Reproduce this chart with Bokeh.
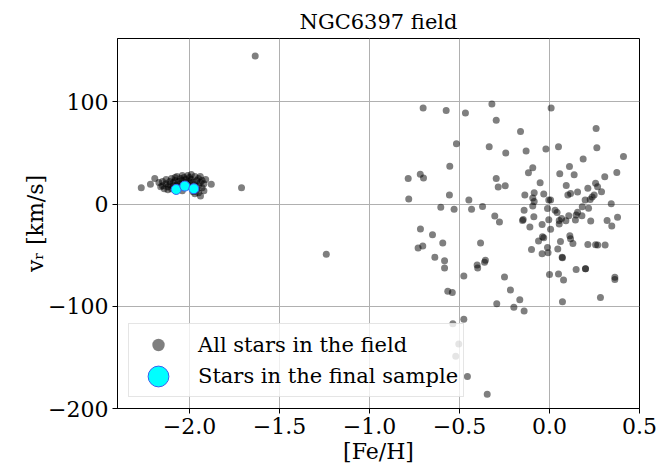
import numpy as np
from bokeh.plotting import figure
from bokeh.models import Range1d, FixedTicker, Legend, LegendItem, ColumnDataSource
from bokeh.embed import file_html
from bokeh.resources import INLINE

# ---- data: all stars in the field ([Fe/H], v_r) ----
blob_feh = [-2.17, -2.16, -2.15, -2.15, -2.14, -2.13, -2.13, -2.12, -2.11, -2.11,
            -2.10, -2.10, -2.09, -2.09, -2.08, -2.08, -2.07, -2.07, -2.06, -2.06,
            -2.05, -2.05, -2.04, -2.04, -2.03, -2.03, -2.02, -2.02, -2.01, -2.01,
            -2.00, -2.00, -1.99, -1.99, -1.99, -1.98, -1.98, -1.97, -1.97, -1.96,
            -1.96, -1.95, -1.95, -1.94, -1.94, -1.93, -1.93, -1.92, -1.92, -1.91,
            -1.97, -2.04, -2.12, -1.95]
blob_vr = [21, 17, 22, 18, 15, 20, 24, 17, 22, 19,
           25, 15, 21, 18, 26, 23, 19, 27, 22, 17,
           25, 20, 28, 23, 18, 26, 21, 24, 28, 19,
           22, 26, 17, 29, 24, 21, 12, 27, 19, 23,
           14, 25, 18, 21, 27, 16, 23, 20, 13, 24,
           10, 13, 14, 11]

poor_feh = [-2.268, -2.217, -2.193, -1.879, -1.939, -1.711, -1.635, -1.24]
poor_vr = [16, 19.5, 25, 19.5, 8, 16, 145, -49]

rich_feh = [-0.702, -0.574, -0.467, -0.32, 0.009, -0.296, -0.161, 0.259, -0.517, -0.335,
            -0.243, -0.13, -0.02, 0.05, 0.263, 0.411, 0.187, -0.554, -0.093, -0.117,
            0.111, 0.057, 0.137, 0.374, 0.307, -0.718, -0.7, -0.785, -0.296, -0.285,
            -0.246, -0.052, 0.093, 0.256, 0.267, 0.213, 0.156, 0.102, 0.117, 0.289,
            0.248, 0.237, 0.226, -0.137, -0.085, -0.093, -0.085, -0.032, -0.004, 0.006,
            0.198, 0.217, 0.182, 0.343, -0.372, -0.141, -0.093, -0.011, 0.031, 0.042,
            0.067, 0.054, 0.054, 0.107, 0.091, 0.156, 0.148, 0.144, 0.18, 0.229,
            0.32, 0.346, 0.378, -0.304, -0.278, -0.15, -0.146, -0.087, -0.109, -0.041,
            -0.004, 0.006, -0.039, -0.032, -0.061, 0.061, 0.113, 0.117, 0.13, 0.213,
            0.256, 0.268, 0.309, -0.383, -0.1, -0.041, -0.011, -0.008, 0.046, 0.07,
            -0.356, -0.556, -0.782, -0.448, -0.604, -0.53, -0.433, -0.717, -0.65, -0.593,
            -0.73, -0.704, -0.637, -0.583, -0.583, -0.402, -0.399, -0.361, -0.476, -0.565,
            -0.54, -0.25, -0.217, -0.165, -0.198, -0.141, -0.293, 0.0, 0.05, 0.072,
            0.078, 0.072, 0.148, 0.2, 0.2, 0.283, 0.363, 0.363, -0.476, -0.537,
            -0.504, -0.521, -0.456, -0.346]
rich_vr = [94, 91.5, 89, 98, 94, 82, 71, 74, 59, 56,
           50, 52, 54, 56, 55, 46.5, 44, 37, 35.5, 30.6,
           36.8, 29.6, 28.6, 30.9, 26.7, 29.3, 25.5, 25, 25, 16.6,
           17.9, 20.8, 18.2, 20.5, 17, 15.6, 11.7, 9, 10.4, 12,
           9, 7, 4.5, 9, 11, 6, 2.5, 9.8, 4, 4,
           4, -4, -2.6, 0.3, -2.3, -6, -2, -4.3, -6, -8.2,
           -14, -16, -19.5, -11.4, -16.3, -8, -10.8, -15.6, -11.4, -16.6,
           -16, -21.5, -13, -11.7, -17.6, -16, -15, -12.4, -22.5, -20,
           -15.3, -24.7, -32, -33, -36, -36.5, -31, -34, -38.5, -39.5,
           -39.8, -40, -40, -38, -44.4, -48.6, -42.5, -47.7, -44, -52,
           -55, 8.8, 4.9, 3.9, -3, -5, -5, -24.5, -30, -38,
           -43, -41, -52, -55.4, -62.6, -59.6, -62.6, -57, -70.4, -85.4,
           -86.4, -71.4, -84, -93.5, -101, -104.6, -97.5, -69, -68.4, -52.5,
           -74.3, -95.5, -64, -63.2, -63.2, -91.3, -71.7, -73.7, -112.8, -117,
           -137, -149, -168.8, -186]

# ---- data: stars in the final sample ----
final_feh = [-2.074, -2.026, -1.976]
final_vr = [14.3, 17.6, 15.0]

x_ticks = [-2.0, -1.5, -1.0, -0.5, 0.0, 0.5]
x_tick_labels = ["\u22122.0", "\u22121.5", "\u22121.0", "\u22120.5", "0.0", "0.5"]
y_ticks = [-200, -100, 0, 100]
y_tick_labels = ["\u2212200", "\u2212100", "0", "100"]

FONT = "DejaVu Serif"

all_feh = blob_feh + poor_feh + rich_feh
all_vr = blob_vr + poor_vr + rich_vr

p = figure(frame_width=522, frame_height=370,
           x_range=Range1d(-2.4, 0.5), y_range=Range1d(-200, 162),
           output_backend="svg", toolbar_location=None,
           min_border_left=117, min_border_right=21,
           min_border_top=38, min_border_bottom=59,
           title="NGC6397 field")
p.background_fill_color = "white"
p.border_fill_color = "white"
p.outline_line_color = "black"
p.outline_line_width = 1
p.outline_line_alpha = 1

p.title.text_font = FONT
p.title.text_font_size = "21px"
p.title.text_font_style = "normal"
p.title.align = "center"
p.title.text_color = "black"

for ax in (p.xaxis[0], p.yaxis[0]):
    ax.major_label_text_font = FONT
    ax.major_label_text_font_size = "22px"
    ax.major_label_text_color = "black"
    ax.axis_label_text_font = FONT
    ax.axis_label_text_font_size = "22px"
    ax.axis_label_text_font_style = "normal"
    ax.axis_label_text_color = "black"
    ax.minor_tick_line_color = None
    ax.major_tick_in = 0
    ax.major_tick_out = 5
    ax.major_tick_line_color = "black"
    ax.axis_line_color = "black"

p.xaxis.ticker = FixedTicker(ticks=x_ticks)
p.xaxis.major_label_overrides = {t: l for t, l in zip(x_ticks, x_tick_labels)}
p.yaxis.ticker = FixedTicker(ticks=y_ticks)
p.yaxis.major_label_overrides = {t: l for t, l in zip(y_ticks, y_tick_labels)}
p.xaxis.axis_label = "[Fe/H]"
p.yaxis.axis_label = "v\u1d63 [km/s]"
p.xaxis.axis_label_standoff = 2
p.xaxis.major_label_standoff = 4
p.yaxis.axis_label_standoff = -3
p.yaxis.major_label_standoff = 4

p.grid.grid_line_color = "#b0b0b0"
p.grid.grid_line_width = 1
p.xgrid.ticker = FixedTicker(ticks=x_ticks)
p.ygrid.ticker = FixedTicker(ticks=y_ticks)

src_all = ColumnDataSource(dict(x=all_feh, y=all_vr))
r_all = p.scatter("x", "y", source=src_all, size=7, fill_color="black",
                  fill_alpha=0.5, line_color=None)
src_fin = ColumnDataSource(dict(x=final_feh, y=final_vr))
r_fin = p.scatter("x", "y", source=src_fin, size=10, fill_color="cyan",
                  fill_alpha=1.0, line_color="#3a5cf0", line_width=1)

# invisible stand-in so the text row of the second legend item is laid out in the box
src_none = ColumnDataSource(dict(x=[], y=[]))
r_blank = p.scatter("x", "y", source=src_none, size=1, fill_alpha=0, line_alpha=0)

legend = Legend(items=[LegendItem(label="All stars in the field", renderers=[r_all]),
                       LegendItem(label="Stars in the final sample", renderers=[r_blank])],
                location=(11, 11))
legend.label_text_font = FONT
legend.label_text_font_size = "21px"
legend.label_text_color = "black"
legend.glyph_height = 31
legend.glyph_width = 48
legend.label_standoff = 16
legend.spacing = 0
legend.padding = 5
legend.margin = 0
legend.border_line_color = "#cccccc"
legend.border_line_width = 1
legend.background_fill_alpha = 0.8
p.add_layout(legend, "center")

# larger marker for the final-sample legend entry
legend2 = Legend(items=[LegendItem(label=" ", renderers=[r_fin])],
                 location=(15, 6))
legend2.glyph_height = 52
legend2.glyph_width = 52
legend2.label_standoff = 0
legend2.label_text_font_size = "1px"
legend2.label_text_alpha = 0
legend2.padding = 0
legend2.margin = 0
legend2.spacing = 0
legend2.border_line_color = None
legend2.background_fill_color = None
legend2.background_fill_alpha = 0
p.add_layout(legend2, "center")

open("out.html", "w").write(file_html(p, INLINE))
